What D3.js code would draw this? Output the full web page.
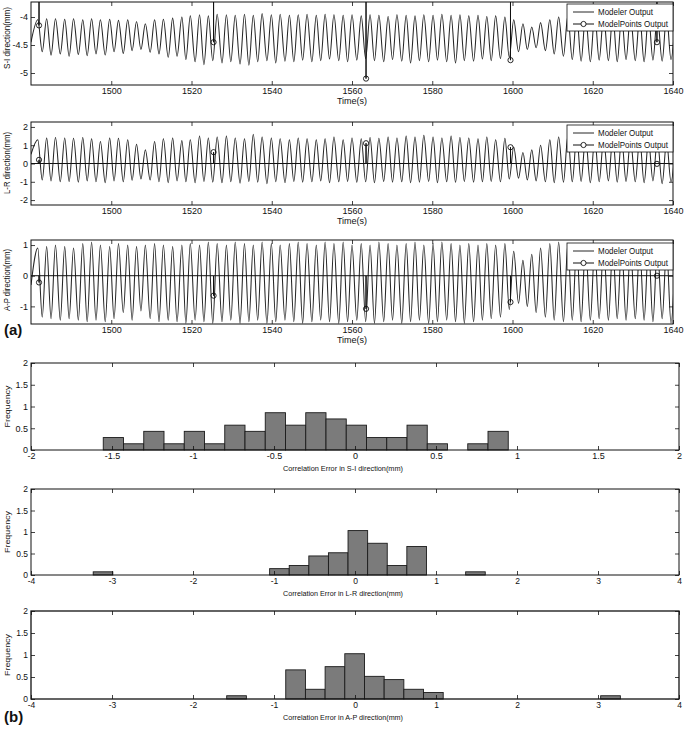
<!DOCTYPE html>
<html><head><meta charset="utf-8">
<script src="https://cdn.jsdelivr.net/npm/d3@7"></script>
<style>
body{margin:0;background:#fff}
svg{display:block}
text{font-family:"Liberation Sans",Arial,Helvetica,sans-serif;fill:#111}
</style>
</head><body>
<svg id="c" width="685" height="729"></svg>
<script>
// ---------------- DATA ----------------
const timeTicks = [1500, 1520, 1540, 1560, 1580, 1600, 1620, 1640];
const siTicks = [-5, -4.5, -4];
const lrTicks = [-2, -1, 0, 1, 2];
const apTicks = [-1, 0, 1];
const freqTicks = [0, 0.5, 1, 1.5, 2];
const siErrTicks = [-2, -1.5, -1, -0.5, 0, 0.5, 1, 1.5, 2];
const wideErrTicks = [-4, -3, -2, -1, 0, 1, 2, 3, 4];

const startTime = 1480.0;
const startValues = {si: -4.45, lr: 0.5, ap: -0.3};

const peakTimes = [1481.7, 1483.9, 1486.1, 1488.4, 1490.6, 1492.9, 1495.1, 1497.3, 1499.6, 1501.8,
  1504.1, 1506.3, 1508.5, 1510.8, 1513.0, 1515.3, 1517.6, 1519.7, 1522.0, 1524.2,
  1526.4, 1528.7, 1530.9, 1533.2, 1535.4, 1537.6, 1539.9, 1542.1, 1544.4, 1546.6,
  1548.8, 1551.1, 1553.3, 1555.5, 1557.8, 1560.0, 1562.3, 1564.5, 1566.7, 1569.0,
  1571.2, 1573.5, 1575.7, 1577.9, 1580.2, 1582.4, 1584.7, 1586.9, 1589.1, 1591.4,
  1593.6, 1595.8, 1598.1, 1600.3, 1602.6, 1604.8, 1607.0, 1609.3, 1611.5, 1613.8,
  1616.0, 1618.2, 1620.5, 1622.7, 1625.0, 1627.2, 1629.4, 1631.7, 1633.9, 1636.1,
  1638.4, 1640.6];
const troughTimes = [1482.8, 1485.0, 1487.3, 1489.5, 1491.8, 1494.0, 1496.2, 1498.5, 1500.7, 1503.0,
  1505.2, 1507.4, 1509.7, 1511.9, 1514.2, 1516.4, 1518.6, 1520.9, 1523.1, 1525.3,
  1527.6, 1529.8, 1532.1, 1534.3, 1536.5, 1538.8, 1541.0, 1543.3, 1545.5, 1547.7,
  1550.0, 1552.2, 1554.4, 1556.7, 1558.9, 1561.2, 1563.4, 1565.6, 1567.9, 1570.1,
  1572.4, 1574.6, 1576.8, 1579.1, 1581.3, 1583.6, 1585.8, 1588.0, 1590.3, 1592.5,
  1594.7, 1597.0, 1599.2, 1601.5, 1603.7, 1605.9, 1608.2, 1610.4, 1612.7, 1614.9,
  1617.1, 1619.4, 1621.6, 1623.9, 1626.1, 1628.3, 1630.6, 1632.8, 1635.0, 1637.3,
  1639.5];

const siPeaks = [-4.05, -4.03, -4.03, -4.04, -4.03, -4.05, -4.03, -4.05, -4.04, -4.06,
  -4.05, -4.08, -4.12, -4.05, -4.04, -4.02, -4.00, -3.98, -3.96, -3.98,
  -3.95, -3.96, -3.97, -3.95, -3.97, -3.94, -3.96, -3.95, -3.97, -3.96,
  -3.95, -3.97, -3.95, -3.96, -3.97, -3.96, -3.98, -3.96, -3.97, -3.99,
  -3.96, -3.97, -3.98, -3.96, -3.97, -3.95, -3.97, -3.96, -3.98, -3.97,
  -3.99, -3.98, -4.00, -4.05, -4.12, -4.18, -4.10, -4.05, -4.00, -3.98,
  -3.96, -3.97, -3.95, -3.98, -3.97, -3.99, -3.97, -3.98, -3.96, -3.98,
  -3.97, -3.98];
const siTroughs = [-4.62, -4.68, -4.66, -4.70, -4.67, -4.69, -4.66, -4.68, -4.62, -4.65,
  -4.60, -4.58, -4.63, -4.66, -4.72, -4.70, -4.76, -4.80, -4.85, -4.78,
  -4.82, -4.80, -4.84, -4.86, -4.80, -4.78, -4.82, -4.79, -4.80, -4.77,
  -4.80, -4.78, -4.75, -4.78, -4.80, -4.77, -4.74, -4.78, -4.80, -4.76,
  -4.79, -4.82, -4.78, -4.80, -4.77, -4.80, -4.82, -4.78, -4.79, -4.75,
  -4.78, -4.74, -4.72, -4.62, -4.58, -4.55, -4.60, -4.66, -4.70, -4.76,
  -4.79, -4.80, -4.77, -4.78, -4.80, -4.76, -4.78, -4.80, -4.77, -4.79,
  -4.76];

const lrPeaks = [1.30, 1.40, 1.42, 1.40, 1.38, 1.42, 1.35, 1.20, 1.40, 1.38,
  1.30, 1.05, 0.75, 1.20, 1.35, 1.40, 1.25, 1.30, 1.50, 1.40,
  1.45, 1.50, 1.40, 1.35, 1.60, 1.45, 1.40, 1.35, 1.30, 1.40,
  1.35, 1.30, 1.35, 1.45, 1.30, 1.40, 1.35, 1.42, 1.38, 1.45,
  1.40, 1.50, 1.45, 1.55, 1.45, 1.40, 1.50, 1.42, 1.40, 1.35,
  1.45, 1.30, 1.38, 0.90, 0.60, 0.75, 1.00, 1.30, 1.45, 1.50,
  1.50, 1.42, 1.35, 1.30, 1.40, 1.35, 1.30, 1.35, 1.25, 1.30,
  1.20, 1.00];
const lrTroughs = [-0.90, -0.95, -1.00, -0.98, -1.02, -0.95, -1.00, -1.05, -0.95, -1.00,
  -0.92, -0.85, -0.90, -1.00, -1.05, -0.95, -1.00, -1.05, -0.98, -1.02,
  -1.05, -1.00, -1.08, -0.98, -1.02, -1.10, -1.00, -1.05, -0.98, -1.02,
  -1.00, -0.95, -1.05, -1.00, -0.98, -1.03, -1.00, -1.05, -0.98, -1.02,
  -1.00, -1.05, -1.02, -0.98, -1.05, -1.00, -1.03, -0.98, -1.02, -1.00,
  -0.98, -1.00, -0.85, -0.80, -0.90, -0.95, -1.00, -1.05, -1.02, -1.00,
  -0.98, -1.05, -1.00, -0.95, -1.02, -0.98, -1.00, -1.05, -0.95, -1.10,
  -1.00];

const apPeaks = [0.90, 0.95, 1.00, 0.95, 0.90, 1.05, 1.10, 1.00, 0.95, 1.05,
  1.00, 0.95, 1.00, 1.05, 1.00, 0.95, 1.00, 1.05, 1.00, 1.10,
  1.05, 1.00, 1.10, 1.05, 1.00, 1.10, 1.05, 1.00, 1.05, 1.10,
  1.05, 1.00, 1.10, 1.05, 1.10, 1.00, 1.05, 1.00, 1.10, 1.05,
  1.00, 1.05, 1.10, 1.00, 1.05, 1.10, 1.05, 1.00, 1.05, 1.00,
  1.05, 1.00, 1.05, 0.80, 0.50, 0.70, 0.90, 1.05, 1.10, 1.05,
  1.00, 1.05, 0.95, 1.00, 0.95, 1.00, 0.90, 0.95, 1.00, 0.95,
  0.90, 0.85];
const apTroughs = [-1.35, -1.40, -1.45, -1.40, -1.45, -1.50, -1.45, -1.50, -1.40, -1.20,
  -1.45, -1.15, -1.40, -1.50, -1.45, -1.50, -1.55, -1.45, -1.50, -1.55,
  -1.50, -1.45, -1.55, -1.50, -1.45, -1.55, -1.50, -1.45, -1.50, -1.55,
  -1.50, -1.45, -1.50, -1.55, -1.50, -1.45, -1.50, -1.55, -1.50, -1.45,
  -1.55, -1.50, -1.45, -1.55, -1.50, -1.45, -1.50, -1.55, -1.50, -1.45,
  -1.40, -1.35, -1.10, -0.90, -1.00, -1.20, -1.35, -1.45, -1.50, -1.45,
  -1.50, -1.45, -1.40, -1.45, -1.40, -1.45, -1.40, -1.45, -1.50, -1.40,
  -1.55];

const modelTimes = [1482.0, 1525.5, 1563.5, 1599.5, 1636.0];
const siModel = [-4.15, -4.45, -5.10, -4.77, -4.45];
const lrModel = [0.20, 0.62, 1.11, 0.89, -0.02];
const apModel = [-0.22, -0.65, -1.08, -0.86, 0.00];

const siBinEdges = [-1.554, -1.429, -1.304, -1.179, -1.054, -0.929, -0.804, -0.679, -0.554, -0.429,
  -0.304, -0.179, -0.054, 0.071, 0.196, 0.321, 0.446, 0.571, 0.696, 0.821, 0.946];
const siFreq = [0.286, 0.143, 0.429, 0.143, 0.429, 0.143, 0.571, 0.429, 0.857, 0.571,
  0.857, 0.714, 0.571, 0.286, 0.286, 0.571, 0.143, 0, 0.143, 0.429];

const lrBinEdges = [-3.232, -2.990, -2.748, -2.506, -2.264, -2.022, -1.780, -1.538, -1.296, -1.054,
  -0.812, -0.570, -0.328, -0.086, 0.156, 0.398, 0.640, 0.882, 1.124, 1.366, 1.608];
const lrFreq = [0.074, 0, 0, 0, 0, 0, 0, 0, 0, 0.148,
  0.221, 0.443, 0.517, 1.033, 0.738, 0.221, 0.664, 0, 0, 0.074];

const apBinEdges = [-1.584, -1.341, -1.098, -0.855, -0.612, -0.369, -0.126, 0.117, 0.360, 0.603,
  0.846, 1.089, 1.332, 1.575, 1.818, 2.061, 2.304, 2.547, 2.790, 3.033, 3.276];
const apFreq = [0.074, 0, 0, 0.662, 0.221, 0.735, 1.029, 0.515, 0.441, 0.221,
  0.147, 0, 0, 0, 0, 0, 0, 0, 0, 0.074];

// ---------------- DRAW ----------------
const svg = d3.select('#c');
const fmt = d => String(d);
let clipN = 0;

function styleAxis(g, size) {
  g.select('.domain').remove();
  g.selectAll('.tick line').attr('stroke', '#111').attr('stroke-width', 0.8);
  g.selectAll('.tick text').attr('font-size', size).attr('fill', '#111')
    .attr('font-family', '"Liberation Sans",Arial,sans-serif');
  g.attr('font-family', null).attr('font-size', null);
}

function frame(g, x0, x1, y0, y1, sw) {
  g.append('rect').attr('x', x0).attr('y', y0).attr('width', x1 - x0).attr('height', y1 - y0)
    .attr('fill', 'none').attr('stroke', '#111').attr('stroke-width', sw || 1);
}

function tsPanel(cfg) {
  const L = 31, R = 673;
  const x = d3.scaleLinear().domain([1480, 1640]).range([L, R]);
  const y = d3.scaleLinear().domain(cfg.yDomain).range([cfg.bottom, cfg.top]);
  const g = svg.append('g');
  const id = 'clip' + (clipN++);
  g.append('clipPath').attr('id', id).append('rect')
    .attr('x', L).attr('y', cfg.top).attr('width', R - L).attr('height', cfg.bottom - cfg.top);

  const pts = [[startTime, cfg.start]];
  peakTimes.forEach((t, i) => {
    pts.push([t, cfg.peaks[i]]);
    if (i < troughTimes.length) pts.push([troughTimes[i], cfg.troughs[i]]);
  });
  pts.sort((a, b) => a[0] - b[0]);
  const line = d3.line().x(d => x(d[0])).y(d => y(d[1])).curve(d3.curveMonotoneX);
  const pg = g.append('g').attr('clip-path', `url(#${id})`);
  pg.append('path').attr('d', line(pts)).attr('fill', 'none')
    .attr('stroke', '#262626').attr('stroke-width', 1.05);

  const mp = [[1479, 0]];
  modelTimes.forEach((t, i) => { mp.push([t - 0.001, 0], [t, cfg.model[i]], [t + 0.001, 0]); });
  mp.push([1642, 0]);
  const lin = d3.line().x(d => x(d[0])).y(d => y(d[1]));
  pg.append('path').attr('d', lin(mp)).attr('fill', 'none')
    .attr('stroke', '#111').attr('stroke-width', 1);
  pg.selectAll('circle.mp').data(modelTimes).join('circle').attr('class', 'mp')
    .attr('cx', d => x(d)).attr('cy', (d, i) => y(cfg.model[i])).attr('r', 2.6)
    .attr('fill', 'none').attr('stroke', '#111').attr('stroke-width', 0.9);

  const ab = g.append('g').attr('transform', `translate(0,${cfg.bottom})`)
    .call(d3.axisBottom(x).tickValues(timeTicks).tickFormat(fmt).tickSizeInner(-4).tickSizeOuter(0).tickPadding(3));
  styleAxis(ab, 9);
  const at = g.append('g').attr('transform', `translate(0,${cfg.top})`)
    .call(d3.axisTop(x).tickValues(timeTicks).tickFormat('').tickSizeInner(-4).tickSizeOuter(0));
  styleAxis(at, 9);
  const al = g.append('g').attr('transform', `translate(${L},0)`)
    .call(d3.axisLeft(y).tickValues(cfg.yTicks).tickFormat(fmt).tickSizeInner(-4).tickSizeOuter(0).tickPadding(3));
  styleAxis(al, 9);
  const ar = g.append('g').attr('transform', `translate(${R},0)`)
    .call(d3.axisRight(y).tickValues(cfg.yTicks).tickFormat('').tickSizeInner(-4).tickSizeOuter(0));
  styleAxis(ar, 9);
  frame(g, L, R, cfg.top, cfg.bottom);

  g.append('text').attr('x', (L + R) / 2).attr('y', cfg.bottom + 19).attr('text-anchor', 'middle')
    .attr('font-size', 9).text('Time(s)');
  const cy = cfg.labelY;
  g.append('text').attr('transform', `translate(10,${cy}) rotate(-90)`).attr('text-anchor', 'middle')
    .attr('font-size', 8.5).attr('textLength', 62).attr('lengthAdjust', 'spacingAndGlyphs').text(cfg.label);

  const lt = cfg.legendTop;
  const lg = g.append('g');
  lg.append('rect').attr('x', 567).attr('y', lt).attr('width', 106).attr('height', 27)
    .attr('fill', '#fff').attr('stroke', '#111').attr('stroke-width', 0.8);
  lg.append('line').attr('x1', 573).attr('x2', 594).attr('y1', lt + 8).attr('y2', lt + 8)
    .attr('stroke', '#262626').attr('stroke-width', 1);
  lg.append('text').attr('x', 598).attr('y', lt + 11).attr('font-size', 8.5)
    .attr('textLength', 55).attr('lengthAdjust', 'spacingAndGlyphs').text('Modeler Output');
  lg.append('line').attr('x1', 573).attr('x2', 594).attr('y1', lt + 20).attr('y2', lt + 20)
    .attr('stroke', '#111').attr('stroke-width', 1);
  lg.append('circle').attr('cx', 583.5).attr('cy', lt + 20).attr('r', 2.6)
    .attr('fill', '#fff').attr('stroke', '#111').attr('stroke-width', 0.9);
  lg.append('text').attr('x', 598).attr('y', lt + 23).attr('font-size', 8.5)
    .attr('textLength', 70).attr('lengthAdjust', 'spacingAndGlyphs').text('ModelPoints Output');
}

function histPanel(cfg) {
  const L = 31, R = 679;
  const x = d3.scaleLinear().domain(cfg.xDomain).range([L, R]);
  const y = d3.scaleLinear().domain([0, 2]).range([cfg.bottom, cfg.top]);
  const g = svg.append('g');
  const bins = cfg.freq.map((f, i) => ({x0: cfg.edges[i], x1: cfg.edges[i + 1], f})).filter(b => b.f > 0);
  g.selectAll('rect.bar').data(bins).join('rect').attr('class', 'bar')
    .attr('x', d => x(d.x0)).attr('width', d => x(d.x1) - x(d.x0))
    .attr('y', d => y(d.f)).attr('height', d => y(0) - y(d.f))
    .attr('fill', '#7b7b7b').attr('stroke', '#1a1a1a').attr('stroke-width', 0.9);

  const ab = g.append('g').attr('transform', `translate(0,${cfg.bottom})`)
    .call(d3.axisBottom(x).tickValues(cfg.xTicks).tickFormat(fmt).tickSizeInner(-4).tickSizeOuter(0).tickPadding(3));
  styleAxis(ab, cfg.tickFont);
  const at = g.append('g').attr('transform', `translate(0,${cfg.top})`)
    .call(d3.axisTop(x).tickValues(cfg.xTicks).tickFormat('').tickSizeInner(-4).tickSizeOuter(0));
  styleAxis(at, 9);
  const al = g.append('g').attr('transform', `translate(${L},0)`)
    .call(d3.axisLeft(y).tickValues(freqTicks).tickFormat(fmt).tickSizeInner(-4).tickSizeOuter(0).tickPadding(3));
  styleAxis(al, cfg.tickFont);
  const ar = g.append('g').attr('transform', `translate(${R},0)`)
    .call(d3.axisRight(y).tickValues(freqTicks).tickFormat('').tickSizeInner(-4).tickSizeOuter(0));
  styleAxis(ar, 9);
  frame(g, L, R, cfg.top, cfg.bottom, cfg.frameW);

  g.append('text').attr('x', 343).attr('y', cfg.bottom + 21).attr('text-anchor', 'middle')
    .attr('font-size', 8).attr('textLength', 120).attr('lengthAdjust', 'spacingAndGlyphs').text(cfg.title);
  const cy = (cfg.top + cfg.bottom) / 2;
  g.append('text').attr('transform', `translate(10,${cy}) rotate(-90)`).attr('text-anchor', 'middle')
    .attr('font-size', 8).attr('textLength', 42).attr('lengthAdjust', 'spacingAndGlyphs').text('Frequency');
}

tsPanel({top: 2, bottom: 85, yDomain: [-5.214, -3.732], yTicks: siTicks, peaks: siPeaks, troughs: siTroughs,
  start: startValues.si, model: siModel, label: 'S-I direction(mm)', legendTop: 4, labelY: 38});
tsPanel({top: 122, bottom: 205, yDomain: [-2.27, 2.27], yTicks: lrTicks, peaks: lrPeaks, troughs: lrTroughs,
  start: startValues.lr, model: lrModel, label: 'L-R direction(mm)', legendTop: 125, labelY: 163});
tsPanel({top: 240, bottom: 324, yDomain: [-1.574, 1.164], yTicks: apTicks, peaks: apPeaks, troughs: apTroughs,
  start: startValues.ap, model: apModel, label: 'A-P direction(mm)', legendTop: 243, labelY: 280});

histPanel({top: 363, bottom: 450, xDomain: [-2, 2], xTicks: siErrTicks, edges: siBinEdges, freq: siFreq,
  title: 'Correlation Error in S-I direction(mm)', tickFont: 9, frameW: 1});
histPanel({top: 489, bottom: 575, xDomain: [-4, 4], xTicks: wideErrTicks, edges: lrBinEdges, freq: lrFreq,
  title: 'Correlation Error in L-R direction(mm)', tickFont: 8.5, frameW: 1});
histPanel({top: 611, bottom: 699, xDomain: [-4, 4], xTicks: wideErrTicks, edges: apBinEdges, freq: apFreq,
  title: 'Correlation Error in A-P direction(mm)', tickFont: 8.5, frameW: 1.3});

svg.append('text').attr('x', 4).attr('y', 335).attr('font-size', 15).attr('font-weight', 'bold').text('(a)');
svg.append('text').attr('x', 4).attr('y', 722).attr('font-size', 15).attr('font-weight', 'bold').text('(b)');
</script>
</body></html>
